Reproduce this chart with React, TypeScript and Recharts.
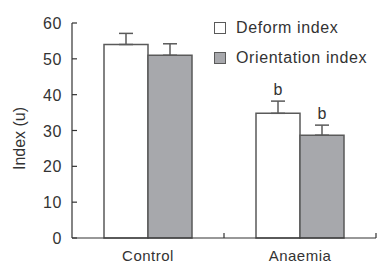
import React from "react";
import { BarChart, Bar, XAxis, YAxis, ErrorBar, LabelList } from "recharts";

// Deform / orientation index per group, mean with upward SD whisker; "b" marks significance.
const groups = ["Control", "Anaemia"];
const deformIndex = [54, 34.8];
const deformErr = [3.1, 3.4];
const orientIndex = [51, 28.7];
const orientErr = [3.2, 2.8];
const deformSig = ["", "b"];
const orientSig = ["", "b"];
const yTicks = [0, 10, 20, 30, 40, 50, 60];

const data = groups.map((g, i) => ({
  group: g,
  deform: deformIndex[i],
  deformErr: [0, deformErr[i]],
  deformSig: deformSig[i],
  orient: orientIndex[i],
  orientErr: [0, orientErr[i]],
  orientSig: orientSig[i],
}));

const FONT = "'Liberation Sans', Arial, sans-serif";
const INK = "#333";
const EDGE = "#5a5a5a";
const GREY = "#a7a8ac";

// places the letter just above the whisker tip (err converted with the bar's own px/unit)
function sigLabel(errs: number[], vals: number[]) {
  return (props: any) => {
    const { x, y, width, height, value, index } = props;
    if (!value) return null;
    const pxPerUnit = height / vals[index];
    const top = y - errs[index] * pxPerUnit;
    return (
      <text x={x + width / 2} y={top - 6} textAnchor="middle" fontSize={16} fontFamily={FONT} fill={INK}>
        {value}
      </text>
    );
  };
}

// props.y sits tickSize+tickMargin (8px) below the axis line
function XTick(props: any) {
  const { x, y, payload } = props;
  const half = payload.offset ?? 76;
  const axisY = y - 8;
  return (
    <g>
      <line x1={x + half} x2={x + half} y1={axisY} y2={axisY - 5} stroke={INK} strokeWidth={1.2} />
      <text x={x} y={axisY + 23} textAnchor="middle" fontSize={15} fontFamily={FONT} fill={INK} letterSpacing={0.5}>
        {payload.value}
      </text>
    </g>
  );
}

function YTick(props: any) {
  const { y, payload } = props;
  return (
    <g>
      <line x1={72} x2={77} y1={y} y2={y} stroke={INK} strokeWidth={1.2} />
      <text x={62} y={y + 6} textAnchor="end" fontSize={16} fontFamily={FONT} fill={INK} letterSpacing={0.6}>
        {payload.value}
      </text>
    </g>
  );
}

function YLabel(props: any) {
  const vb = props.viewBox;
  const cx = vb.x + 19;
  const cy = vb.y + vb.height / 2 + 8;
  return (
    <text x={cx} y={cy} transform={`rotate(-90 ${cx} ${cy})`} textAnchor="middle" dominantBaseline="central" fontSize={16} fontFamily={FONT} fill={INK}>
      Index (u)
    </text>
  );
}

const legendItems = [
  { label: "Deform index", fill: "#fff" },
  { label: "Orientation index", fill: GREY },
];

export default function App() {
  return (
    <div style={{ position: "absolute", left: 0, top: 0, width: 379, height: 265, background: "#fff" }}>
      <BarChart width={379} height={265} data={data} margin={{ top: 23, right: 3, left: 0, bottom: 0 }} barGap={0} barSize={44}>
        <XAxis dataKey="group" height={27} axisLine={{ stroke: INK, strokeWidth: 1.2 }} tickLine={false} tick={<XTick />} interval={0} />
        <YAxis
          domain={[0, 60]}
          ticks={yTicks}
          width={72}
          axisLine={{ stroke: INK, strokeWidth: 1.2 }}
          tickLine={false}
          tick={<YTick />}
          interval={0}
          label={<YLabel />}
        />
        <Bar dataKey="deform" fill="#fff" stroke={EDGE} strokeWidth={1.5} isAnimationActive={false}>
          <ErrorBar dataKey="deformErr" width={7} stroke={EDGE} strokeWidth={1.5} />
          <LabelList dataKey="deformSig" content={sigLabel(deformErr, deformIndex)} />
        </Bar>
        <Bar dataKey="orient" fill={GREY} stroke={EDGE} strokeWidth={1.5} isAnimationActive={false}>
          <ErrorBar dataKey="orientErr" width={7} stroke={EDGE} strokeWidth={1.5} />
          <LabelList dataKey="orientSig" content={sigLabel(orientErr, orientIndex)} />
        </Bar>
      </BarChart>
      <div style={{ position: "absolute", left: 214, top: 13, fontFamily: FONT, fontSize: 16, color: INK, letterSpacing: 0.6 }}>
        {legendItems.map((it) => (
          <div key={it.label} style={{ display: "flex", alignItems: "center", height: 30 }}>
            <span style={{ width: 10, height: 10, border: `1.5px solid ${EDGE}`, background: it.fill, marginRight: 10 }} />
            <span>{it.label}</span>
          </div>
        ))}
      </div>
    </div>
  );
}
